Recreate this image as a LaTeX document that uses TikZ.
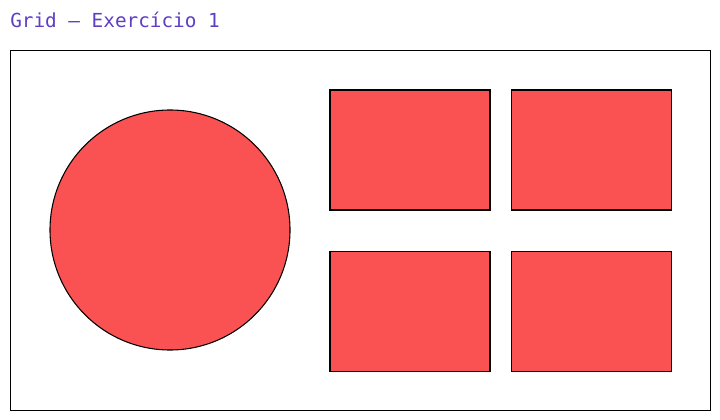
\documentclass[tikz,border=0pt]{standalone}
\usepackage{fontspec}
\setmonofont{DejaVu Sans Mono}
\usetikzlibrary{positioning}
\definecolor{violet}{RGB}{95,61,196}
\definecolor{red}{RGB}{250,82,82}

\begin{document}
\begin{tikzpicture}[x=0.75pt,y=-0.75pt,
    cell/.style={draw=black, fill=red, line width=0.8pt, rectangle, minimum width=120pt, minimum height=90pt, inner sep=0pt},
    blob/.style={draw=black, fill=red, line width=0.8pt, circle, minimum size=180pt, inner sep=0pt}]
			\useasboundingbox (0,0) rectangle (720,420);
			\node[anchor=base west, inner sep=0pt, text=violet, font=\ttfamily\fontsize{14.5pt}{16pt}\selectfont] (title) at (10,28) {Grid – Exercício 1};
			\node[draw=black, line width=0.8pt, rectangle, minimum width=525pt, minimum height=270pt, inner sep=0pt, anchor=north west] (frame) at (10,50) {};

			\node[blob] (ball) at (170,230) {};
			\node[cell] (topA) at (410,150) {};
			\node[cell, right=15pt of topA] (topB) {};
			\node[cell, below=30pt of topA] (botA) {};
			\node[cell, below=30pt of topB] (botB) {};
		\end{tikzpicture}
\end{document}
